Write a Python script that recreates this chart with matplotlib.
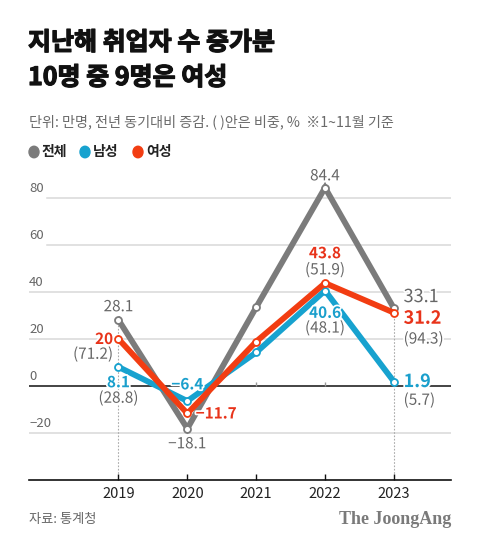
import matplotlib
matplotlib.use("Agg")
import matplotlib.pyplot as plt
import matplotlib.transforms as mtransforms
import matplotlib.patheffects as pe

plt.rcParams['font.family'] = ['Noto Sans CJK KR', 'DejaVu Sans']

years = [2019, 2020, 2021, 2022, 2023]
total = [28.1, -18.1, 33.5, 84.4, 33.1]
men = [8.1, -6.4, 14.3, 40.6, 1.9]
women = [20.0, -11.7, 18.9, 43.8, 31.2]
# share of total increase, % (shown in brackets)
share_2019 = {'women': 71.2, 'men': 28.8}
share_2022 = {'women': 51.9, 'men': 48.1}
share_2023 = {'women': 94.3, 'men': 5.7}
yticks = [-20, 0, 20, 40, 60, 80]

GRAY = '#7b7b7b'
BLUE = '#17a2cf'
RED = '#f23d12'
RED_TXT = '#e8331a'
BLUE_TXT = '#1a9fcc'
LBL = '#666666'

W, H = 480, 551
fig = plt.figure(figsize=(W / 100, H / 100), dpi=100)
fig.patch.set_facecolor('white')


def fx(px):
    return px / W


def fy(py):
    return 1 - py / H


# titles (stroke to fake the heavy headline weight)
heavy = [pe.withStroke(linewidth=0.9, foreground='#111111')]
fig.text(fx(28), fy(43), '지난해 취업자 수 증가분', fontsize=18, fontweight='bold',
         color='#111111', va='center', ha='left', path_effects=heavy)
fig.text(fx(28), fy(78), '10명 중 9명은 여성', fontsize=18, fontweight='bold',
         color='#111111', va='center', ha='left', path_effects=heavy)
fig.text(fx(29), fy(122), '단위: 만명, 전년 동기대비 증감. ( )안은 비중, %  ※1~11월 기준',
         fontsize=10.2, color='#6a6a6a', va='center', ha='left')

# legend
leg = [('전체', GRAY, 29), ('남성', BLUE, 80), ('여성', RED, 133)]
for name, col, x0 in leg:
    fig.patches.append(plt.Circle((fx(x0 + 5), fy(152)), 5 / W, color=col,
                                  transform=fig.transFigure, figure=fig))
    fig.text(fx(x0 + 13), fy(152), name, fontsize=10, fontweight='bold',
             color='#222222', va='center', ha='left')

# axes: bottom at -40 (px 480), 0 at px 386, 47px per 20
top_val = 90
top_px = 386 - top_val * 47 / 20
ax = fig.add_axes([fx(29), fy(480), fx(451) - fx(29), (480 - top_px) / H])
ax.set_xlim(2017.7, 2023.83)
ax.set_ylim(-40, top_val)
for s in ['top', 'right', 'left']:
    ax.spines[s].set_visible(False)
ax.spines['bottom'].set_color('#111111')
ax.spines['bottom'].set_linewidth(1.2)
ax.set_yticks([])
ax.set_xticks(years)
ax.set_xticklabels([str(y) for y in years], fontsize=10.5, color='#222222')
ax.tick_params(axis='x', direction='in', length=4, width=1, color='#111111', pad=5)

trans = mtransforms.blended_transform_factory(ax.transAxes, ax.transData)
for v in yticks:
    if v == 0:
        ax.axhline(v, color='#111111', lw=1.1, zorder=1)
    elif v > 50:
        ax.axhline(v, xmin=18 / 422, color='#d9d9d9', lw=1.1, zorder=1)
    else:
        ax.axhline(v, color='#d9d9d9', lw=1.1, zorder=1)
    lab = str(v) if v >= 0 else '−' + str(-v)
    ax.text(0.0, v + 1.3, lab, transform=trans, fontsize=9.5, color='#666666',
            ha='left', va='bottom')

# small ticks on the zero line
ax.vlines(years, 0, 1.8, color='#999999', lw=1, zorder=1)

# dotted guides at 2019 and 2023
ax.vlines([years[0]], -40, total[0], color='#aaaaaa', lw=0.8, ls=(0, (1.5, 1.5)), zorder=1.5)
ax.vlines([years[-1]], -40, women[-1], color='#aaaaaa', lw=0.8, ls=(0, (1.5, 1.5)), zorder=1.5)

for series, col, z in [(total, GRAY, 2), (men, BLUE, 3), (women, RED, 4)]:
    ax.plot(years, series, color=col, lw=4.2, zorder=z, solid_joinstyle='miter',
            marker='o', markersize=5, markerfacecolor='white',
            markeredgecolor=col, markeredgewidth=1.3)

halo = [pe.withStroke(linewidth=2.5, foreground='white')]


def fmt(v):
    s = '%g' % abs(v)
    return s if v >= 0 else '−' + s


def lab(text, x, y, dx, dy, ha, color, size=11, bold=False):
    ax.annotate(text, (x, y), xytext=(dx, dy), textcoords='offset points',
                ha=ha, va='center', fontsize=size, color=color,
                fontweight='bold' if bold else 'normal', zorder=6, path_effects=halo)


# 2019
lab(fmt(total[0]), years[0], total[0], 0, 9.5, 'center', LBL)
lab(fmt(women[0]), years[0], women[0], -4, 0, 'right', RED_TXT, bold=True)
lab('(%g)' % share_2019['women'], years[0], women[0], -4, -11, 'right', LBL)
lab(fmt(men[0]), years[0], men[0], 0, -11, 'center', BLUE_TXT, bold=True)
lab('(%g)' % share_2019['men'], years[0], men[0], 0, -22.5, 'center', LBL)
# 2020
lab(fmt(men[1]), years[1], men[1], 0, 12, 'center', BLUE_TXT, bold=True)
lab(fmt(women[1]), years[1], women[1], 6, 0, 'left', RED_TXT, bold=True)
lab(fmt(total[1]), years[1], total[1], 0, -11, 'center', LBL)
# 2022
lab(fmt(total[3]), years[3], total[3], 0, 8.5, 'center', LBL)
lab(fmt(women[3]), years[3], women[3], 0, 21.5, 'center', RED_TXT, bold=True)
lab('(%g)' % share_2022['women'], years[3], women[3], 0, 9.5, 'center', LBL)
lab(fmt(men[3]), years[3], men[3], 0, -16, 'center', BLUE_TXT, bold=True)
lab('(%g)' % share_2022['men'], years[3], men[3], 0, -27, 'center', LBL)
# 2023
lab(fmt(total[4]), years[4], total[4], 7, 8, 'left', LBL, size=13)
lab(fmt(women[4]), years[4], women[4], 7, -4, 'left', RED_TXT, size=13, bold=True)
lab('(%g)' % share_2023['women'], years[4], women[4], 7, -19, 'left', LBL)
lab(fmt(men[4]), years[4], men[4], 7, 0, 'left', BLUE_TXT, size=13, bold=True)
lab('(%g)' % share_2023['men'], years[4], men[4], 7, -13.5, 'left', LBL)

# footer
fig.text(fx(29), fy(520), '자료: 통계청', fontsize=9.5, color='#666666', va='center', ha='left')
fig.text(fx(451), fy(520), 'The JoongAng', fontsize=13, fontweight='bold',
         family='Liberation Serif', color='#7a7a7a', va='center', ha='right')

fig.savefig('out.png', dpi=100, facecolor='white')
